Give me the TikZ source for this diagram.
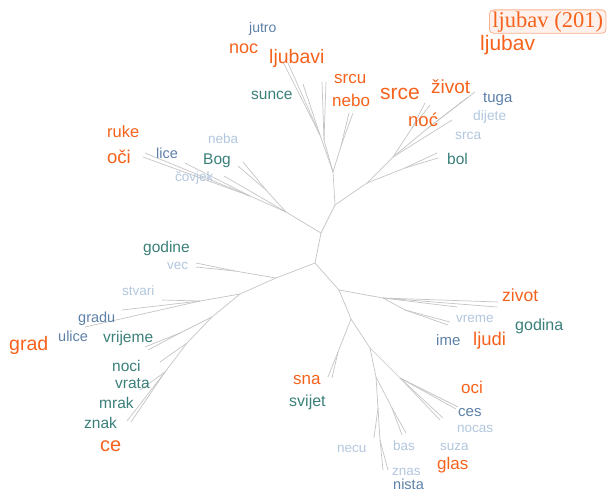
\documentclass[tikz,border=0pt]{standalone}
\usepackage{fontspec}
\setmainfont{Liberation Sans}
\newfontfamily\boxfont{Liberation Serif}
\definecolor{hot}{RGB}{246,98,28}
\definecolor{deep}{RGB}{58,128,122}
\definecolor{mid}{RGB}{92,128,168}
\definecolor{pale}{RGB}{178,198,222}
\definecolor{twig}{RGB}{196,196,196}

\begin{document}
\begin{tikzpicture}[x=1pt,y=-1pt,
  word/.style={anchor=base west,inner sep=0pt,font=\fontsize{#1}{#1}\selectfont},
  ow/.style={word=#1,text=hot},
  tw/.style={word=#1,text=deep},
  bw/.style={word=#1,text=mid},
  pw/.style={word=#1,text=pale},
  branch/.style={draw=twig,line width=0.7pt}]
\useasboundingbox (0,0) rectangle (607,491);

\coordinate (r) at (315,263);
\coordinate (a) at (321,233);
\coordinate (c) at (335,205);
\coordinate (d) at (333,172);
\coordinate (d1) at (320,135);
\coordinate (l1) at (283,62);
\coordinate (l2) at (288,63);
\coordinate (l3) at (303,84);
\coordinate (d2) at (324,140);
\coordinate (l4) at (322,82);
\coordinate (l5) at (326,82);
\coordinate (d3) at (341,146);
\coordinate (l6) at (349,113);
\coordinate (l7) at (353,113);
\coordinate (h) at (367,183);
\coordinate (h1) at (405,168);
\coordinate (l8) at (437,153);
\coordinate (l9) at (438,158);
\coordinate (i) at (393,157);
\coordinate (i1) at (412,128);
\coordinate (l10) at (425,103);
\coordinate (l11) at (430,105);
\coordinate (i2) at (428,128);
\coordinate (l12) at (468,97);
\coordinate (l13) at (475,92);
\coordinate (l14) at (452,120);
\coordinate (ob) at (286,212);
\coordinate (ob1) at (266,190);
\coordinate (l15) at (243,162);
\coordinate (l16) at (238,166);
\coordinate (ob2) at (250,196);
\coordinate (l17) at (145,153);
\coordinate (l18) at (143,157);
\coordinate (l19) at (185,163);
\coordinate (l20) at (224,176);
\coordinate (ll) at (276,278);
\coordinate (ll1) at (235,271);
\coordinate (l21) at (196,263);
\coordinate (l22) at (196,267);
\coordinate (s) at (240,294);
\coordinate (s1) at (200,301);
\coordinate (l23) at (162,300);
\coordinate (l24) at (122,310);
\coordinate (l25) at (85,327);
\coordinate (wv) at (212,317);
\coordinate (wv1) at (180,333);
\coordinate (l26) at (145,347);
\coordinate (l27) at (148,350);
\coordinate (wn) at (187,343);
\coordinate (l28) at (160,362);
\coordinate (wn1) at (165,372);
\coordinate (l29) at (140,390);
\coordinate (l30) at (127,421);
\coordinate (l31) at (131,422);
\coordinate (rn) at (339,290);
\coordinate (rn1) at (383,298);
\coordinate (l32) at (498,302);
\coordinate (l33) at (497,307);
\coordinate (l34) at (457,307);
\coordinate (rn2) at (405,310);
\coordinate (l35) at (450,322);
\coordinate (l36) at (448,325);
\coordinate (m) at (351,319);
\coordinate (m1) at (338,352);
\coordinate (l37) at (332,378);
\coordinate (l38) at (328,377);
\coordinate (n) at (370,348);
\coordinate (n1) at (400,378);
\coordinate (l39) at (458,407);
\coordinate (l40) at (456,409);
\coordinate (l41) at (443,418);
\coordinate (l42) at (440,420);
\coordinate (p) at (376,377);
\coordinate (p1) at (392,408);
\coordinate (l43) at (402,435);
\coordinate (l44) at (406,433);
\coordinate (q) at (378,408);
\coordinate (l45) at (374,438);
\coordinate (q1) at (380,440);
\coordinate (l46) at (383,470);
\coordinate (l47) at (388,470);

\foreach \from/\to in {r/a,a/c,c/d,d/d1,d1/l1,d1/l2,d1/l3,d/d2,d2/l4,d2/l5,d/d3,d3/l6,d3/l7,
    c/h,h/h1,h1/l8,h1/l9,h/i,i/i1,i1/l10,i1/l11,i/i2,i2/l12,i2/l13,i/l14,
    a/ob,ob/ob1,ob1/l15,ob1/l16,ob/ob2,ob2/l17,ob2/l18,ob2/l19,ob/l20,
    r/ll,ll/ll1,ll1/l21,ll1/l22,ll/s,s/s1,s1/l23,s1/l24,s1/l25,s/wv,wv/wv1,wv1/l26,wv1/l27,
    wv/wn,wn/l28,wn/wn1,wn1/l29,wn1/l30,wn1/l31,
    r/rn,rn/rn1,rn1/l32,rn1/l33,rn1/l34,rn1/rn2,rn2/l35,rn2/l36,rn/m,m/m1,m1/l37,m1/l38,
    m/n,n/n1,n1/l39,n1/l40,n1/l41,n1/l42,n/p,p/p1,p1/l43,p1/l44,p/q,q/l45,q/q1,q1/l46,q1/l47}
  \draw[branch] (\from) -- (\to);

\node[anchor=base west,font=\boxfont\fontsize{22.5}{22.5}\selectfont,text=hot,draw=hot!50,fill=hot!9,
  rounded corners=4pt,inner xsep=3pt,inner ysep=1.5pt,line width=0.8pt] (count) at (489,27) {ljubav (201)};
\node[ow=21] (ljubav) at (480,50) {ljubav};

\node[bw=14] (jutro) at (249,32) {jutro};
\node[ow=18] (noc) at (229,53) {noc};
\node[ow=19.5] (ljubavi) at (269,63) {ljubavi};
\node[tw=15.5] (sunce) at (251,99) {sunce};
\node[ow=17] (srcu) at (334,83) {srcu};
\node[ow=17] (nebo) at (332,106) {nebo};
\node[ow=21] (srce) at (380,99) {srce};
\node[ow=19] (zivot1) at (431,93) {život};
\node[ow=18.5] (noc2) at (408,126) {noć};
\node[bw=15] (tuga) at (483,102) {tuga};
\node[pw=13.8] (dijete) at (473,120) {dijete};
\node[pw=13.8] (srca) at (455,139) {srca};
\node[tw=15.5] (bol) at (447,164) {bol};

\node[ow=16.5] (ruke) at (107,137) {ruke};
\node[ow=18.5] (oci1) at (107,163) {oči};
\node[bw=14.5] (lice) at (156,158) {lice};
\node[pw=13.5] (neba) at (208,143) {neba};
\node[tw=15.5] (bog) at (203,164) {Bog};
\node[pw=13.5] (covjek) at (175,181) {čovjek};

\node[tw=15.5] (godine) at (143,252) {godine};
\node[pw=13.5] (vec) at (167,269) {vec};
\node[pw=13.5] (stvari) at (122,295) {stvari};
\node[bw=14.5] (gradu) at (78,322) {gradu};
\node[bw=14.5] (ulice) at (58,341) {ulice};
\node[ow=19.5] (grad) at (9,350) {grad};
\node[tw=15.5] (vrijeme) at (103,342) {vrijeme};
\node[tw=15.5] (noci) at (112,371) {noci};
\node[tw=15.5] (vrata) at (115,388) {vrata};
\node[tw=15.5] (mrak) at (99,408) {mrak};
\node[tw=15.5] (znak) at (84,428) {znak};
\node[ow=20] (ce) at (100,451) {ce};

\node[ow=17] (sna) at (293,384) {sna};
\node[tw=16] (svijet) at (289,406) {svijet};
\node[pw=13.5] (necu) at (337,452) {necu};
\node[pw=13.5] (bas) at (393,450) {bas};
\node[pw=13.5] (suza) at (440,450) {suza};
\node[pw=13.5] (znas) at (392,475) {znas};
\node[bw=14.5] (nista) at (393,489) {nista};
\node[ow=17] (glas) at (437,469) {glas};
\node[ow=17] (oci2) at (461,393) {oci};
\node[bw=15] (ces) at (458,416) {ces};
\node[pw=13.5] (nocas) at (457,432) {nocas};

\node[ow=17.5] (zivot2) at (502,301) {zivot};
\node[pw=13.5] (vreme) at (456,322) {vreme};
\node[tw=16] (godina) at (515,330) {godina};
\node[bw=15] (ime) at (436,345) {ime};
\node[ow=18.5] (ljudi) at (473,345) {ljudi};
\end{tikzpicture}
\end{document}
